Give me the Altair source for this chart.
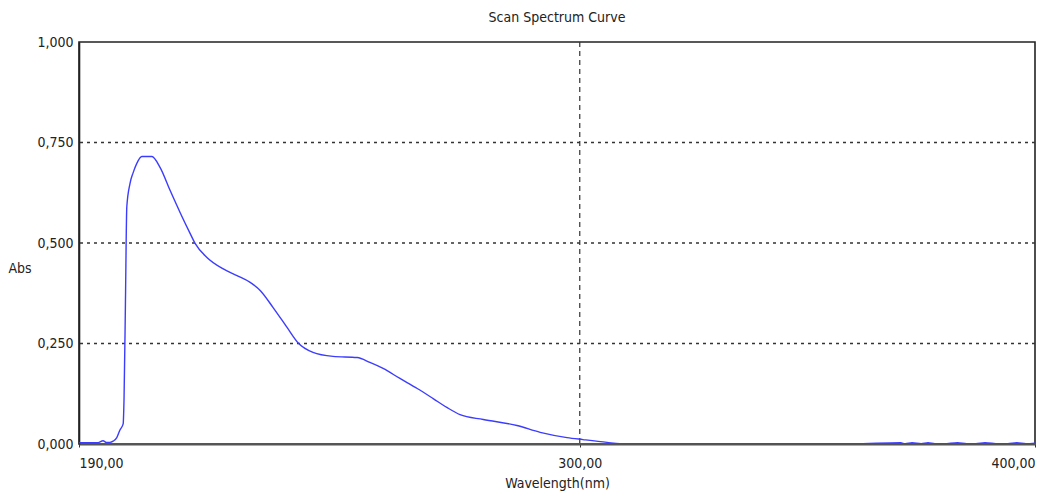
import altair as alt
import pandas as pd

wavelength = [190.0, 192.0, 194.0, 195.3, 196.0, 196.8, 197.5, 198.3, 199.0, 199.7,
              199.9, 200.2, 200.5, 201.2, 201.9, 202.7, 203.8, 206.0, 207.8, 210.0,
              212.2, 214.4, 215.5, 218.1, 221.6, 224.7,
              227.6, 229.8, 232.6, 235.7, 238.1, 241.4, 245.8, 251.1, 253.9, 256.8,
              260.5, 264.3, 267.8, 270.8, 273.7, 278.8, 286.2, 291.3, 297.2, 300.7,
              306.0, 308.8, 320.0, 340.0, 360.0, 370.5, 371.5, 373.0, 375.0, 376.5,
              378.0, 380.0, 383.0, 385.0, 387.0, 389.0, 392.0, 394.0, 396.0, 398.0, 400.0]
absorbance = [0.003, 0.003, 0.003, 0.008, 0.004, 0.004, 0.007, 0.016, 0.035, 0.05,
              0.116, 0.35, 0.59, 0.648, 0.675, 0.698, 0.715, 0.715, 0.688, 0.631,
              0.576, 0.524, 0.499, 0.464, 0.436, 0.419,
              0.402, 0.382, 0.340, 0.290, 0.252, 0.228, 0.218, 0.215, 0.203, 0.188,
              0.163, 0.138, 0.113, 0.091, 0.073, 0.061, 0.046, 0.029, 0.016, 0.011,
              0.004, 0.001, 0.0005, 0.0005, 0.0005, 0.003, 0.0005, 0.003, 0.0005, 0.003,
              0.0005, 0.0005, 0.003, 0.0005, 0.0005, 0.003, 0.0005, 0.0005, 0.003, 0.0005, 0.002]

x_ticks = [190, 300, 400]
y_ticks = [0.0, 0.25, 0.5, 0.75, 1.0]
x_grid = [300]
y_grid = [0.25, 0.5, 0.75]

FONT = "Liberation Sans Narrow, DejaVu Sans Condensed, Arial Narrow, sans-serif"

df = pd.DataFrame({"wl": wavelength, "abs": absorbance})
xs = alt.Scale(domain=[190, 400], nice=False, zero=False)
ys = alt.Scale(domain=[0, 1], nice=False, zero=False)

line = alt.Chart(df).mark_line(color="#3c3cff", strokeWidth=1.4, interpolate="monotone", clip=True).encode(
    x=alt.X("wl:Q", scale=xs,
            axis=alt.Axis(values=x_ticks, title="Wavelength(nm)",
                          labelExpr="replace(format(datum.value, '.2f'), '.', ',')",
                          grid=False, tickSize=3, tickColor="#333", domainColor="#555", domainWidth=2.2,
                          labelPadding=9, titlePadding=6, labelFont=FONT, titleFont=FONT,
                          labelFontSize=14, titleFontSize=14, titleFontWeight="normal",
                          labelColor="#222", titleColor="#222")),
    y=alt.Y("abs:Q", scale=ys,
            axis=alt.Axis(values=y_ticks, title="Abs",
                          labelExpr="replace(format(datum.value, '.3f'), '.', ',')",
                          grid=False, tickSize=0, domainColor="#222", domainWidth=1.6,
                          labelPadding=6, labelFont=FONT, titleFont=FONT,
                          labelFontSize=14, titleFontSize=14, titleFontWeight="normal",
                          labelColor="#222", titleColor="#222",
                          titleAngle=0, titleAlign="left", titleBaseline="middle",
                          titleX=-71, titleY=226)),
)

hgrid = alt.Chart(pd.DataFrame({"g": y_grid})).mark_rule(
    color="#333", strokeDash=[3, 4], strokeWidth=1.5).encode(y=alt.Y("g:Q", scale=ys))
vgrid = alt.Chart(pd.DataFrame({"g": x_grid})).mark_rule(
    color="#333", strokeDash=[5, 4], strokeWidth=1.2).encode(x=alt.X("g:Q", scale=xs))

chart = alt.layer(hgrid, vgrid, line).properties(
    width=956, height=402,
    background="white",
    title=alt.TitleParams("Scan Spectrum Curve", font=FONT, fontSize=14, fontWeight="normal",
                          color="#222", offset=10, anchor="middle"),
    autosize=alt.AutoSizeParams(type="none"),
    padding={"left": 79, "top": 42, "right": 20, "bottom": 52},
).configure_view(stroke="#222", strokeWidth=1.6)

chart.save("out.html", embed_options={"renderer": "svg", "actions": False})
